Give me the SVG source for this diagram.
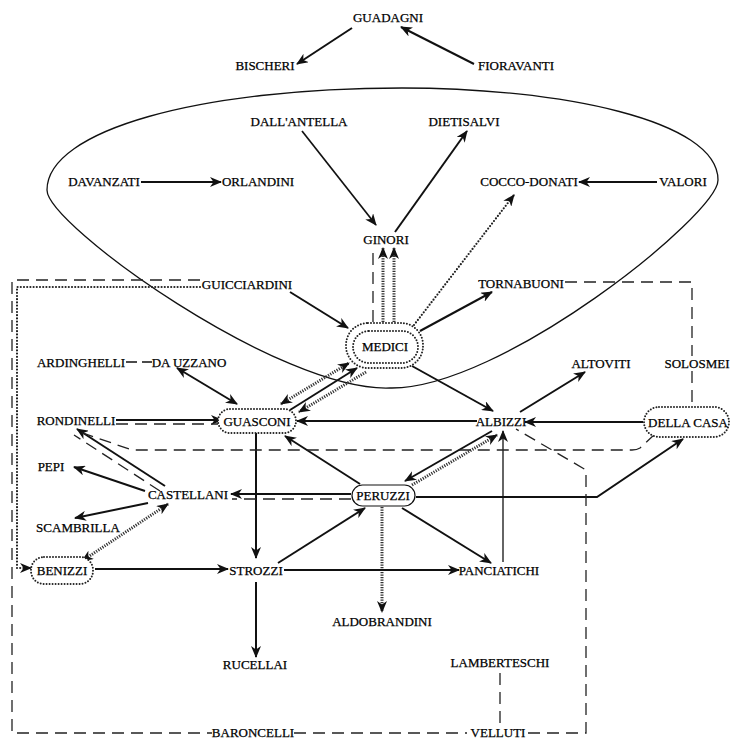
<svg xmlns="http://www.w3.org/2000/svg" width="731" height="741" viewBox="0 0 731 741">
<style>
text{font-family:"Liberation Serif","Times New Roman",serif;font-size:13px;fill:#000;stroke:#000;stroke-width:0.25;text-anchor:middle}
.s{fill:none;stroke:#111;stroke-width:2}
.t{fill:none;stroke:#111;stroke-width:1.3}
.d{fill:none;stroke:#222;stroke-width:1.3;stroke-dasharray:12 7}
.o{fill:none;stroke:#222;stroke-width:2.2;stroke-dasharray:0 3.2;stroke-linecap:round}
.h{fill:none;stroke:#333;stroke-width:3;stroke-dasharray:1.2 1.3}
.nd{fill:#fff;stroke:#222;stroke-width:2;stroke-dasharray:0 3;stroke-linecap:round}
.ns{fill:#fff;stroke:#111;stroke-width:1.2}
.ar{marker-end:url(#a)}
.ab{marker-start:url(#a);marker-end:url(#a)}
</style>
<defs>
<marker id="a" viewBox="0 0 12 10" refX="11" refY="5" markerWidth="12" markerHeight="10" markerUnits="userSpaceOnUse" orient="auto-start-reverse">
<path d="M0,0 L12,5 L0,10 L3.5,5 Z" fill="#111"/>
</marker>
</defs>
<rect width="731" height="741" fill="#fff"/>

<g id="faction-boundary">
<path class="t" d="M390,388 C280,392 47,225 47,190 C47,130 200,88 402,88 C560,88 718,120 718,180 C718,215 500,390 390,388 Z"/>
</g>

<g id="connectors">
<path class="s ar" d="M352,28 L297,64"/>
<path class="s ar" d="M474,64 L401,27"/>
<path class="s ar" d="M141,182 L221,182"/>
<path class="s ar" d="M657,182 L579,182"/>
<path class="t ar" style="stroke-width:1.7" d="M302,131 L376,225"/>
<path class="s ar" d="M395,232 L467,131"/>
<path class="o ar" d="M414,325 L514,195"/>
<path class="d" d="M373,322 L373,248"/>
<path class="h ar" d="M383,322 L383,248"/>
<path class="h ar" d="M394,322 L394,248"/>
<path class="s ar" d="M290,292 L348,328"/>
<path class="s ar" d="M420,331 L492,292"/>
<path class="s ar" d="M412,366 L493,411"/>
<path class="s ar" d="M520,412 L585,372"/>
<path class="s ab" d="M177,368 L237,404"/>
<path class="s ar" d="M116,420 L222,420"/>
<path class="d" d="M116,424 L218,424"/>
<path class="s ar" d="M477,421 L297,421"/>
<path class="s ar" d="M643,422 L525,422"/>
<path class="s ar" d="M360,484 L285,436"/>
<path class="s ar" d="M256,433 L256,558"/>
<path class="s ar" d="M492,431 L405,481"/>
<path class="h ar" d="M412,485 L497,435"/>
<path class="s ar" d="M351,494 L231,494"/>
<path class="d" d="M351,499 L232,499"/>
<path class="s ar" d="M416,497 L597,497 L683,439"/>
<path class="s ar" d="M402,508 L491,563"/>
<path class="t ar" d="M503,562 L503,431"/>
<path class="h ar" d="M382,507 L382,612"/>
<path class="s ar" d="M278,563 L365,508"/>
<path class="s ar" d="M284,570 L459,570"/>
<path class="s ar" d="M256,582 L256,657"/>
<path class="s ar" d="M95,569 L228,569"/>
<path class="s ar" d="M165,486 L77,429"/>
<path class="d" d="M160,491 L74,435"/>
<path class="s ar" d="M145,491 L74,467"/>
<path class="s ar" d="M148,503 L75,518"/>
<path class="h ab" d="M168,504 L82,561"/>
<path class="h ab" d="M281,404 L349,363"/>
<path class="s ar" d="M290,410 L357,368"/>
<path class="h ar" d="M366,372 L299,412"/>
<path class="d" d="M200,280 L12,280 L12,733 L212,733 M294,733 L467,733 M528,733 L586,733 L586,470 L516,429"/>
<path class="o ar" d="M200,287 L17,287 L17,568 L31,568"/>
<path class="d" d="M565,282 L692,282 L692,356 M692,371 L692,408"/>
<path class="d" d="M655,434 L640,448 Q637,450 632,450 L132,450 L80,432"/>
<path class="d" d="M500,673 L500,727"/>
<path class="t" d="M126,362 L137,362 M142,362 L152,362"/>
</g>

<g id="GUADAGNI"><text x="388" y="22">GUADAGNI</text></g>
<g id="BISCHERI"><text x="265" y="70">BISCHERI</text></g>
<g id="FIORAVANTI"><text x="516" y="70">FIORAVANTI</text></g>
<g id="DALLANTELLA"><text x="299" y="126">DALL'ANTELLA</text></g>
<g id="DIETISALVI"><text x="464" y="126">DIETISALVI</text></g>
<g id="DAVANZATI"><text x="104" y="186">DAVANZATI</text></g>
<g id="ORLANDINI"><text x="258" y="186">ORLANDINI</text></g>
<g id="COCCO-DONATI"><text x="529" y="186">COCCO-DONATI</text></g>
<g id="VALORI"><text x="683" y="186">VALORI</text></g>
<g id="GINORI"><text x="386" y="244">GINORI</text></g>
<g id="GUICCIARDINI"><text x="247" y="289">GUICCIARDINI</text></g>
<g id="TORNABUONI"><text x="521" y="288">TORNABUONI</text></g>
<g id="MEDICI">
<rect class="nd" x="346" y="323" width="77" height="45" rx="22"/>
<rect class="nd" x="353" y="331" width="65" height="32" rx="16"/>
<text x="385" y="351">MEDICI</text>
</g>
<g id="ARDINGHELLI"><text x="81" y="367">ARDINGHELLI</text></g>
<g id="DA-UZZANO"><text x="189" y="367">DA UZZANO</text></g>
<g id="ALTOVITI"><text x="601" y="368">ALTOVITI</text></g>
<g id="SOLOSMEI"><text x="697" y="368">SOLOSMEI</text></g>
<g id="RONDINELLI"><text x="76" y="425">RONDINELLI</text></g>
<g id="GUASCONI">
<rect class="nd" x="218" y="409" width="78" height="24" rx="12"/>
<text x="257" y="426">GUASCONI</text>
</g>
<g id="ALBIZZI"><text x="501" y="426">ALBIZZI</text></g>
<g id="DELLA-CASA">
<rect class="nd" x="644" y="407" width="85" height="30" rx="15"/>
<text x="688" y="427">DELLA CASA</text>
</g>
<g id="PEPI"><text x="51" y="471">PEPI</text></g>
<g id="CASTELLANI"><text x="188" y="499">CASTELLANI</text></g>
<g id="PERUZZI">
<rect class="ns" x="352" y="485" width="63" height="21" rx="10.5"/>
<text x="383" y="500">PERUZZI</text>
</g>
<g id="SCAMBRILLA"><text x="78" y="532">SCAMBRILLA</text></g>
<g id="BENIZZI">
<rect class="nd" x="31" y="557" width="62" height="27" rx="13"/>
<text x="62" y="575">BENIZZI</text>
</g>
<g id="STROZZI"><text x="256" y="575">STROZZI</text></g>
<g id="PANCIATICHI"><text x="499" y="575">PANCIATICHI</text></g>
<g id="ALDOBRANDINI"><text x="382" y="626">ALDOBRANDINI</text></g>
<g id="RUCELLAI"><text x="255" y="669">RUCELLAI</text></g>
<g id="LAMBERTESCHI"><text x="500" y="667">LAMBERTESCHI</text></g>
<g id="BARONCELLI"><text x="253" y="737">BARONCELLI</text></g>
<g id="VELLUTI"><text x="498" y="737">VELLUTI</text></g>
</svg>
